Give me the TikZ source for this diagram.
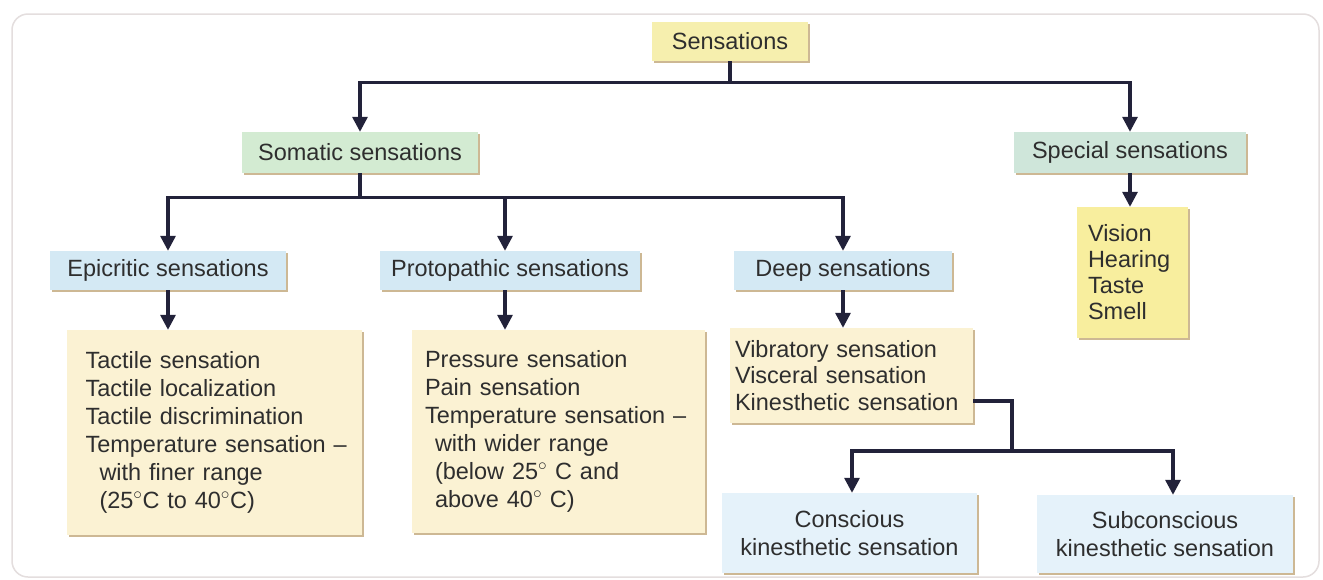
\documentclass[tikz,border=0pt]{standalone}
\usepackage{fontspec}
\setmainfont{Liberation Sans}
\usetikzlibrary{arrows.meta,shadows,calc}
\definecolor{ink}{HTML}{22223A}
\definecolor{txt}{HTML}{2E2E2E}
\definecolor{yel}{HTML}{F6EFAE}
\definecolor{grn}{HTML}{D3EBD2}
\definecolor{grn2}{HTML}{CFE6DA}
\definecolor{blu}{HTML}{D4E9F4}
\definecolor{cream}{HTML}{FBF2D3}
\definecolor{vyel}{HTML}{F8EE9E}
\definecolor{lblu}{HTML}{E5F2FA}
\definecolor{shd}{HTML}{CDB894}
\definecolor{framec}{HTML}{E4DEDE}
\begin{document}
\begin{tikzpicture}[x=1pt,y=-1pt,
  box/.style={draw=none, text=txt, font=\fontsize{23.5}{27}\selectfont, inner sep=0pt,
    drop shadow={shadow xshift=1.5pt,shadow yshift=-2pt,fill=shd,opacity=1}},
  arr/.style={draw=ink, line width=3.2pt, -{Triangle[width=15pt,length=15pt]}},
  ln/.style={draw=ink, line width=3.2pt}
]
\useasboundingbox (0,0) rectangle (1323,579);
\fill[white] (0,0) rectangle (1323,579);
\draw[framec, line width=1.5pt, rounded corners=16pt, fill=white] (12,14) rectangle (1319,577);

\node[box, fill=yel, minimum width=156pt, minimum height=39pt] (sens) at (730,41.5) {Sensations};
\node[box, fill=grn, minimum width=236pt, minimum height=41pt] (som) at (360,152.5) {Somatic sensations};
\node[box, fill=grn2, minimum width=232pt, minimum height=41pt] (spec) at (1130,152.5) {Special sensations};
\node[box, fill=vyel, minimum height=131pt, text width=89pt, align=left, inner xsep=11pt,
  font=\fontsize{23.5}{26}\selectfont] (vis) at (1132.5,272.5) {Vision\\Hearing\\Taste\\Smell};

\node[box, fill=blu, minimum width=236pt, minimum height=39pt] (epi) at (168,270.5) {Epicritic sensations};
\node[box, fill=blu, minimum width=260pt, minimum height=39pt] (pro) at (510,270.5) {Protopathic sensations};
\node[box, fill=blu, minimum width=218pt, minimum height=39pt] (deep) at (843,270.5) {Deep sensations};

\node[box, fill=cream, minimum height=205pt, text width=258pt, inner xsep=18.5pt, align=left,
  font=\fontsize{23.5}{28}\selectfont] (tac) at (214.5,432.5)
  {Tactile sensation\\Tactile localization\\Tactile discrimination\\\mbox{Temperature sensation –}\\\hspace*{14pt}with finer range\\\hspace*{14pt}(25$^\circ$C to 40$^\circ$C)};
\node[box, fill=cream, minimum height=203pt, text width=267pt, inner xsep=13pt, align=left,
  font=\fontsize{23.5}{28}\selectfont] (pre) at (558.5,431.5)
  {Pressure sensation\\Pain sensation\\\mbox{Temperature sensation –}\\\hspace*{10pt}with wider range\\\hspace*{10pt}(below 25$^\circ$ C and\\\hspace*{10pt}above 40$^\circ$ C)};
\node[box, fill=cream, minimum height=95pt, text width=233pt, inner xsep=5pt, align=left,
  font=\fontsize{23.5}{26.5}\selectfont] (vib) at (851.5,375.5)
  {Vibratory sensation\\Visceral sensation\\Kinesthetic sensation};

\node[box, fill=lblu, minimum width=255pt, minimum height=80pt, align=center,
  font=\fontsize{23.5}{28}\selectfont] (con) at (849.5,533) {Conscious\\kinesthetic sensation};
\node[box, fill=lblu, minimum width=256pt, minimum height=78pt, align=center,
  font=\fontsize{23.5}{28}\selectfont] (sub) at (1165,534) {Subconscious\\kinesthetic sensation};

\coordinate (k) at (973,401);
\coordinate (j) at (1012,451);

\draw[arr] (sens.south) -- ++(0,21.5) -| (som.north);
\draw[arr] (sens.south) -- ++(0,21.5) -| (spec.north);
\draw[arr] (som.south) -- ++(0,24) -| (epi.north);
\draw[arr] (som.south) -- ++(0,24) -| (505,0 |- pro.north);
\draw[arr] (som.south) -- ++(0,24) -| (deep.north);
\draw[arr] (spec.south) -- (spec.south |- vis.north);
\draw[arr] (epi.south) -- (epi.south |- tac.north);
\draw[arr] (505,0 |- pro.south) -- (505,0 |- pre.north);
\draw[arr] (deep.south) -- (deep.south |- vib.north);
\draw[ln] (k) -| (j);
\draw[arr] (j) -| (852,0 |- con.north);
\draw[arr] (j) -| (1173,0 |- sub.north);
\end{tikzpicture}
\end{document}
